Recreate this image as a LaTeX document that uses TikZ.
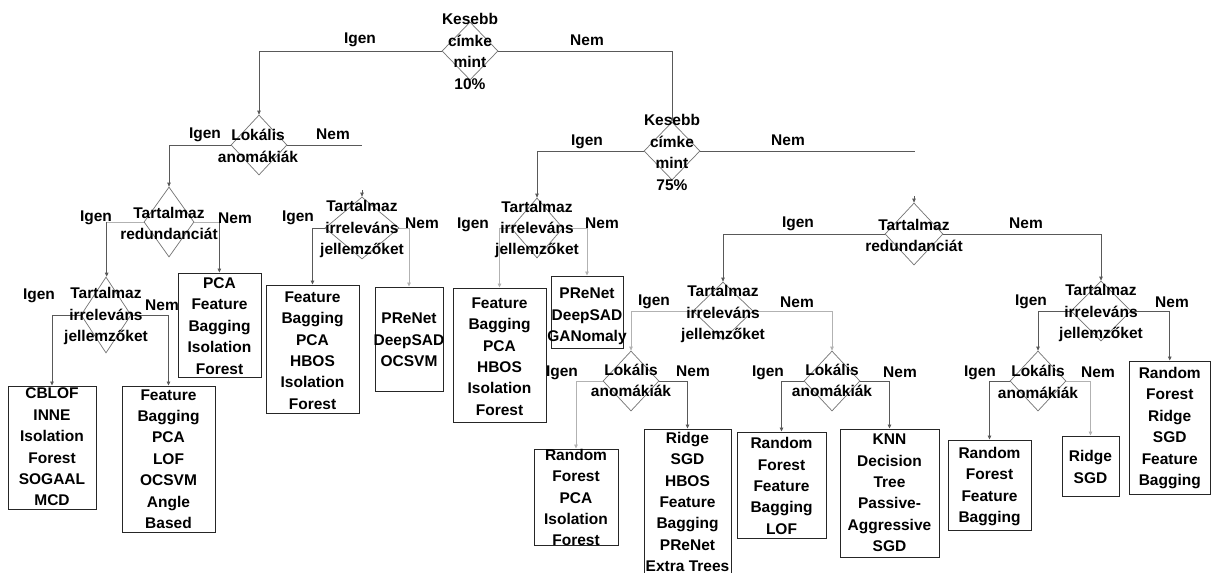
\documentclass[tikz,border=0pt]{standalone}
\usepackage{fontspec}
\setmainfont{Liberation Sans}
\usetikzlibrary{shapes.geometric,arrows.meta}
\tikzset{
  dia/.style={draw=black!55,line width=0.7pt,diamond,inner sep=0pt,shape aspect=1},
  txt/.style={align=center,inner sep=0pt,font=\bfseries\fontsize{15.5}{21.4}\selectfont,text=black},
  lab/.style={inner sep=0pt,font=\bfseries\fontsize{15.5}{18}\selectfont},
  box/.style={draw=black!85,line width=0.9pt,rectangle,inner sep=0pt},
  conn/.style={draw=black!65,line width=0.8pt},
  connl/.style={draw=black!30,line width=0.8pt},
  arr/.style={-{Triangle[length=4pt,width=3.5pt]}}
}
\begin{document}
\begin{tikzpicture}[x=1pt,y=-1pt]
\useasboundingbox[fill=white] (0,0) rectangle (1211,573);
% diamonds
\node[dia,minimum width=56,minimum height=58] (D1) at (470,51) {};
\node[dia,minimum width=56,minimum height=60] (D2) at (259,145) {};
\node[dia,minimum width=50,minimum height=70] (D3) at (169,222) {};
\node[dia,minimum width=50,minimum height=76] (D4) at (106,315) {};
\node[dia,minimum width=74,minimum height=62] (D5) at (362,228) {};
\node[dia,minimum width=52,minimum height=60] (D6) at (537,228) {};
\node[dia,minimum width=56,minimum height=58] (D7) at (672,151) {};
\node[dia,minimum width=58,minimum height=62] (D8) at (914,234) {};
\node[dia,minimum width=60,minimum height=58] (D9) at (723,311) {};
\node[dia,minimum width=56,minimum height=60] (D10) at (631,381) {};
\node[dia,minimum width=56,minimum height=60] (D11) at (832,381) {};
\node[dia,minimum width=60,minimum height=60] (D12) at (1101,311) {};
\node[dia,minimum width=56,minimum height=60] (D13) at (1038,381) {};
% boxes
\node[box,minimum width=88,minimum height=123] (B1) at (52,447.5) {};
\node[box,minimum width=93,minimum height=146] (B2) at (168.5,459) {};
\node[box,minimum width=83,minimum height=104] (B3) at (219.5,325) {};
\node[box,minimum width=93,minimum height=128] (B4) at (312.5,349) {};
\node[box,minimum width=68,minimum height=104] (B5) at (409,339) {};
\node[box,minimum width=93,minimum height=134] (B6) at (499.5,355) {};
\node[box,minimum width=72,minimum height=72] (B7) at (587,312) {};
\node[box,minimum width=84,minimum height=96] (B8) at (576,497) {};
\node[box,minimum width=87,minimum height=149] (B9) at (687.5,503.5) {};
\node[box,minimum width=89,minimum height=106] (B10) at (781.5,485) {};
\node[box,minimum width=99,minimum height=128] (B11) at (889.5,493) {};
\node[box,minimum width=83,minimum height=90] (B12) at (989.5,485) {};
\node[box,minimum width=57,minimum height=60] (B13) at (1090.5,466) {};
\node[box,minimum width=81,minimum height=133] (B14) at (1169.75,427.5) {};
% dangling ends
\coordinate (E2) at (362,145);
\coordinate (S5) at (362,190);
\coordinate (E7) at (915,151);
\coordinate (S8) at (914,196);
% connectors
\draw[conn,arr] (D1.west) -| (D2.north);
\draw[conn,arr] (D1.east) -| (D7.north);
\draw[conn,arr] (D2.west) -| (D3.north);
\draw[conn] (D2.east) -- (E2);
\draw[conn,arr] (S5) -- (D5.north);
\draw[connl] (D3.west) -- ++(-37,0) coordinate (T3);
\draw[conn,arr] (T3) -- (T3 |- D4.north);
\draw[connl] (D3.east) -- ++(25,0) coordinate (U3);
\draw[conn,arr] (U3) -- (U3 |- B3.north);
\draw[conn,arr] (D4.west) -| (B1.north);
\draw[conn,arr] (D4.east) -| (B2.north);
\draw[conn,arr] (D5.west) -| (B4.north);
\draw[connl,arr] (D5.east) -| (B5.north);
\draw[connl,arr] (D6.west) -| (B6.north);
\draw[connl,arr] (D6.east) -| (B7.north);
\draw[conn,arr] (D7.west) -| (D6.north);
\draw[conn] (D7.east) -- (E7);
\draw[conn,arr] (S8) -- (D8.north);
\draw[conn,arr] (D8.west) -| (D9.north);
\draw[conn,arr] (D8.east) -| (D12.north);
\draw[connl,arr] (D9.west) -| (D10.north);
\draw[connl,arr] (D9.east) -| (D11.north);
\draw[connl,arr] (D10.west) -| (B8.north);
\draw[conn,arr] (D10.east) -| (B9.north);
\draw[conn,arr] (D11.west) -| (B10.north);
\draw[conn,arr] (D11.east) -| (B11.north);
\draw[conn,arr] (D12.west) -| (D13.north);
\draw[conn,arr] (D12.east) -| (B14.north);
\draw[conn,arr] (D13.west) -| (B12.north);
\draw[connl,arr] (D13.east) -| (B13.north);
% diamond texts
\node[txt] (D1t) at (470,51.5) {Kesebb\\címke\\mint\\10\%};
\node[txt] (D2t) at (258,146) {Lokális\\anomákiák};
\node[txt] (D3t) at (169,223.5) {Tartalmaz\\redundanciát};
\node[txt] (D4t) at (106,316) {Tartalmaz\\irreleváns\\jellemzőket};
\node[txt] (D5t) at (362,229) {Tartalmaz\\irreleváns\\jellemzőket};
\node[txt] (D6t) at (537,229.5) {Tartalmaz\\irreleváns\\jellemzőket};
\node[txt] (D7t) at (672,152.5) {Kesebb\\címke\\mint\\75\%};
\node[txt] (D8t) at (914,235.5) {Tartalmaz\\redundanciát};
\node[txt] (D9t) at (723,314) {Tartalmaz\\irreleváns\\jellemzőket};
\node[txt] (D10t) at (631,380.5) {Lokális\\anomákiák};
\node[txt] (D11t) at (832,380.5) {Lokális\\anomákiák};
\node[txt] (D12t) at (1101,313) {Tartalmaz\\irreleváns\\jellemzőket};
\node[txt] (D13t) at (1038,382) {Lokális\\anomákiák};
% box texts
\node[txt] (B1t) at (52,447) {CBLOF\\INNE\\Isolation\\Forest\\SOGAAL\\MCD};
\node[txt] (B2t) at (168.5,459) {Feature\\Bagging\\PCA\\LOF\\OCSVM\\Angle\\Based};
\node[txt] (B3t) at (219.5,326) {PCA\\Feature\\Bagging\\Isolation\\Forest};
\node[txt] (B4t) at (312.5,350.5) {Feature\\Bagging\\PCA\\HBOS\\Isolation\\Forest};
\node[txt] (B5t) at (409,340) {PReNet\\DeepSAD\\OCSVM};
\node[txt] (B6t) at (499.5,356.5) {Feature\\Bagging\\PCA\\HBOS\\Isolation\\Forest};
\node[txt] (B7t) at (587,316.5) {PReNet\\DeepSAD\\GANomaly};
\node[txt] (B8t) at (576,497.5) {Random\\Forest\\PCA\\Isolation\\Forest};
\node[txt] (B9t) at (687.5,502) {Ridge\\SGD\\HBOS\\Feature\\Bagging\\PReNet\\Extra Trees};
\node[txt] (B10t) at (781.5,486) {Random\\Forest\\Feature\\Bagging\\LOF};
\node[txt] (B11t) at (889.5,493) {KNN\\Decision\\Tree\\Passive-\\Aggressive\\SGD};
\node[txt] (B12t) at (989.5,486.5) {Random\\Forest\\Feature\\Bagging};
\node[txt] (B13t) at (1090.5,467) {Ridge\\SGD};
\node[txt] (B14t) at (1169.75,428) {Random\\Forest\\Ridge\\SGD\\Feature\\Bagging};
% yes/no labels
\node[lab] (L1i) at (360,40) {Igen};
\node[lab] (L1n) at (587,40) {Nem};
\node[lab] (L2i) at (205,135) {Igen};
\node[lab] (L2n) at (333,134) {Nem};
\node[lab] (L3i) at (96,218) {Igen};
\node[lab] (L3n) at (235,218) {Nem};
\node[lab] (L4i) at (39,296) {Igen};
\node[lab] (L4n) at (162,305) {Nem};
\node[lab] (L5i) at (298,218) {Igen};
\node[lab] (L5n) at (422,223) {Nem};
\node[lab] (L6i) at (473,225) {Igen};
\node[lab] (L6n) at (602,223) {Nem};
\node[lab] (L7i) at (587,142) {Igen};
\node[lab] (L7n) at (788,140) {Nem};
\node[lab] (L8i) at (798,224) {Igen};
\node[lab] (L8n) at (1026,223) {Nem};
\node[lab] (L9i) at (654,302) {Igen};
\node[lab] (L9n) at (797,302) {Nem};
\node[lab] (L10i) at (562,373) {Igen};
\node[lab] (L10n) at (693,371) {Nem};
\node[lab] (L11i) at (768,373) {Igen};
\node[lab] (L11n) at (900,372) {Nem};
\node[lab] (L12i) at (1031,302) {Igen};
\node[lab] (L12n) at (1172,302) {Nem};
\node[lab] (L13i) at (980,373) {Igen};
\node[lab] (L13n) at (1098,372) {Nem};
\end{tikzpicture}
\end{document}
